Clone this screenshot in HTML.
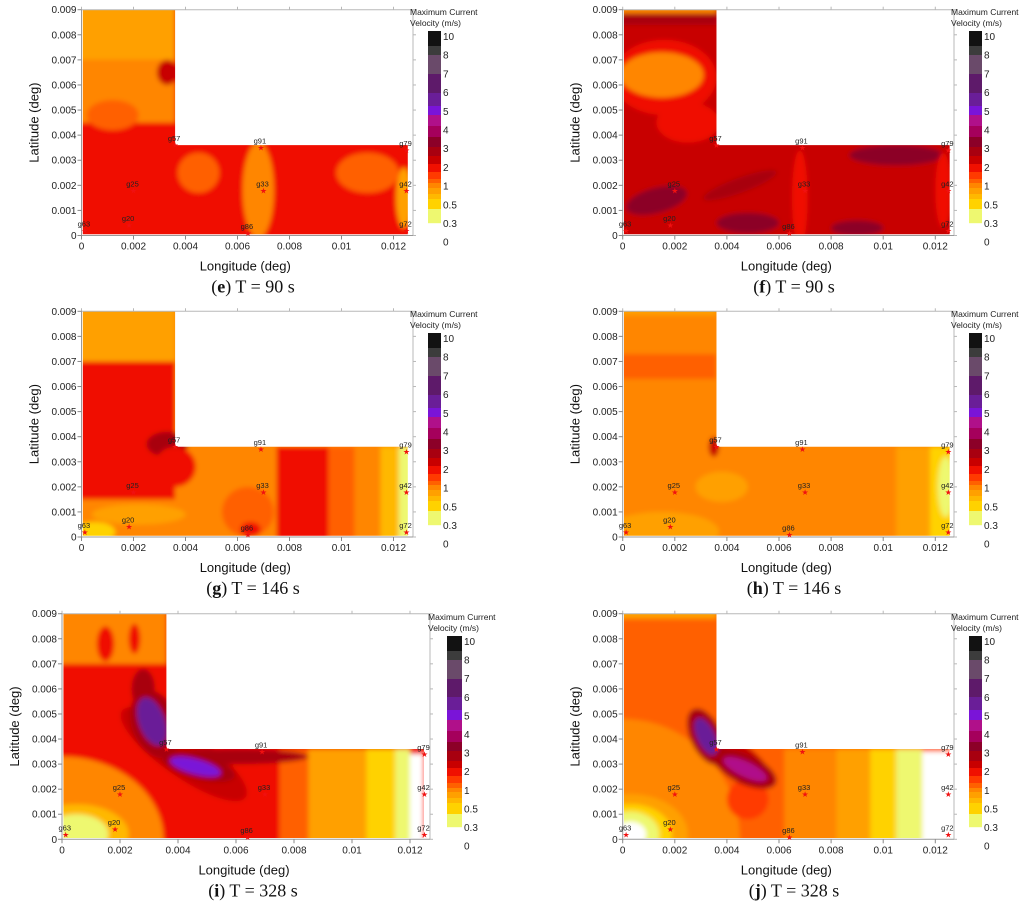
<!DOCTYPE html>
<html><head><meta charset="utf-8">
<style>
html,body{margin:0;padding:0;background:#fff;overflow:hidden;width:1024px;height:907px;}
svg{display:block;}
text{font-family:"Liberation Sans",sans-serif;}
.cap{font-family:"Liberation Serif",serif;font-size:18px;fill:#111;}
</style></head>
<body>
<svg id="fig" width="1024" height="907" viewBox="0 0 1024 907" xmlns="http://www.w3.org/2000/svg" overflow="hidden">
<defs><filter id="soft" x="-5%" y="-5%" width="110%" height="110%"><feGaussianBlur stdDeviation="2.5"/></filter></defs>
</svg>
<script>
// ---- shared data ----
const xTicks=[0,0.002,0.004,0.006,0.008,0.01,0.012];
const xTickLabels=['0','0.002','0.004','0.006','0.008','0.01','0.012'];
const yTicks=[0,0.001,0.002,0.003,0.004,0.005,0.006,0.007,0.008,0.009];
const yTickLabels=['0','0.001','0.002','0.003','0.004','0.005','0.006','0.007','0.008','0.009'];
const cbLabels=['10','8','7','6','5','4','3','2','1','0.5','0.3','0'];
const cbValues=[10,8,7,6,5,4,3,2,1,0.5,0.3,0];
const gaugeNames=['g63','g20','g25','g57','g91','g33','g86','g79','g42','g72'];
const gaugeLon=[0.00013,0.00183,0.002,0.0036,0.0069,0.0070,0.0064,0.0125,0.0125,0.0125];
const gaugeLat=[0.0002,0.00042,0.0018,0.0036,0.0035,0.0018,0.0001,0.0034,0.0018,0.0002];
const levelBounds=[0.2,0.45,0.65,0.8,0.95,1.15,1.4,1.75,2.2,2.6,3.1,3.6,4.2,4.8,5.3,6,7,8,9];
const levelColors=['#ffffff','#eef870','#ffd200','#ffb800','#ffa000','#ff8600','#ff6000','#ff3a00','#f01000','#c80000','#a80010','#8c0028','#a5005c','#b0108a','#7a14d8','#6a1e98','#5e1a6a','#6a4a6a','#3c3c3c','#121212'];

// ---- panel field data: rects [lon1,lat1,lon2,lat2,value]; blobs [lon,lat,rLon,rLat,value,tiltDeg] ----
const eRects=[[0,0,0.0126,0.009,1.8],[0,0.0045,0.0036,0.007,1.1],[0,0.007,0.0036,0.009,0.8]];
const eBlobs=[[0.0012,0.0048,0.001,0.0006,1.3,0],[0.0068,0.0018,0.0006,0.0019,1.0,0],[0.0045,0.0025,0.0008,0.0008,1.3,0],[0.011,0.0025,0.0012,0.0008,1.2,0],[0.0124,0.0015,0.0003,0.0012,0.85,0],[0.0033,0.0065,0.0004,0.0005,2.5,0],[0.0018,0.0004,0.0008,0.0006,2.0,0],[0.0105,0.0005,0.001,0.0008,2.0,0],[0.009,0.0028,0.0006,0.0006,2.0,0],[0.003,0.0033,0.0007,0.0005,2.0,0]];
const fRects=[[0,0,0.0126,0.009,2.5],[0,0.0084,0.0036,0.009,2.8],[0,0.00885,0.0036,0.009,1.0]];
const fBlobs=[[0.0016,0.0063,0.002,0.0015,1.9,0],[0.0015,0.0064,0.0016,0.0009,1.1,0],[0.0025,0.0045,0.0012,0.0008,2.0,0],[0.0068,0.0015,0.0003,0.0019,2.0,0],[0.0013,0.0014,0.0012,0.0005,3.3,-15],[0.0048,0.0005,0.0012,0.0004,3.3,0],[0.0105,0.0032,0.0018,0.0004,3.3,0],[0.0123,0.0018,0.0003,0.0015,2.0,0],[0.009,0.0003,0.001,0.0003,3.3,0],[0.0045,0.002,0.0015,0.0003,2.8,-20]];
const gRects=[[0,0,0.0126,0.009,1.1],[0,0.0015,0.0036,0.007,1.9],[0,0.007,0.0036,0.009,0.8],[0.0075,0,0.0095,0.0036,1.8],[0.0095,0,0.0105,0.0036,1.3],[0.0115,0,0.0122,0.0036,0.7],[0.0122,0,0.0126,0.0036,0.4]];
const gBlobs=[[0.0033,0.0037,0.0008,0.0005,2.6,0],[0.0005,0.0002,0.0008,0.0004,0.6,0],[0.0064,0.001,0.001,0.001,1.3,0],[0.0065,0.0003,0.0004,0.0003,2.0,0],[0.0022,0.0009,0.0018,0.0004,0.9,0],[0.0036,0.0028,0.0008,0.0008,1.9,0]];
const hRects=[[0,0,0.0126,0.009,1.0],[0,0.0063,0.0036,0.0073,1.3],[0,0.00885,0.0036,0.009,0.8],[0.0105,0,0.0118,0.0036,0.8],[0.0118,0,0.0126,0.0036,0.5]];
const hBlobs=[[0.0035,0.0036,0.0002,0.0004,2.2,0],[0.0015,0.0002,0.0022,0.0008,0.8,0],[0.0038,0.002,0.001,0.0006,0.85,0],[0.0124,0.002,0.0003,0.0012,0.35,0]];
const iRects=[[0,0,0.0126,0.009,1.8],[0,0.007,0.0036,0.009,1.0],[0.0075,0,0.0085,0.0036,1.2],[0.0085,0,0.0105,0.0036,0.9],[0.0105,0,0.0115,0.0036,0.6],[0.0115,0,0.012,0.0036,0.35],[0.012,0,0.01245,0.0034,0],[0.01245,0,0.0126,0.0036,1.5]];
const iBlobs=[[0,0,0.0035,0.0033,1.0,0],[0.0005,0.0002,0.0018,0.0012,0.7,0],[0.0005,0.0002,0.0011,0.0008,0.4,0],[0.0015,0.0078,0.0003,0.0007,1.8,0],[0.0025,0.008,0.0002,0.0006,1.8,0],[0.0028,0.006,0.0004,0.0008,2.7,0],[0.0042,0.0034,0.0026,0.0009,2.3,35],[0.0032,0.0046,0.0008,0.0014,3.0,-20],[0.0031,0.0047,0.00045,0.0010,5.5,-20],[0.006,0.0033,0.0025,0.0003,2.7,0],[0.0047,0.0029,0.0013,0.0005,3.0,15],[0.0046,0.0029,0.0009,0.0003,5.0,15]];
const jRects=[[0,0,0.0126,0.009,1.3],[0,0.0088,0.0036,0.009,0.8],[0.0062,0,0.0082,0.0036,1.0],[0.0082,0,0.0095,0.0036,0.85],[0.0095,0,0.0105,0.0036,0.6],[0.0105,0,0.0115,0.0036,0.35],[0.0115,0,0.0126,0.0035,0]];
const jBlobs=[[0,0,0.0045,0.0048,1.0,0],[0.0003,0.0002,0.0022,0.0016,0.85,0],[0.0003,0.0002,0.0016,0.0012,0.6,0],[0.0003,0.0002,0.0011,0.0009,0.4,0],[0.0003,0.0002,0.0006,0.0005,0,0],[0.0048,0.0016,0.0008,0.0008,1.5,0],[0.0042,0.0033,0.0018,0.0007,2.2,35],[0.0032,0.0041,0.0006,0.0012,2.8,-25],[0.0032,0.0041,0.00035,0.0008,5.5,-25],[0.0047,0.0028,0.0013,0.0006,2.8,25],[0.0047,0.0028,0.0009,0.0003,4.5,25]];

const panels=[
 {id:'e',T:'90',rects:eRects,blobs:eBlobs,x0:81.5,kx:26.0,y0:235.5,yt:9.7,fr:413,cbX:428,cbW:13,cbT:31,cbB:223,tX:410,capX:253},
 {id:'f',T:'90',rects:fRects,blobs:fBlobs,x0:622.7,kx:26.05,y0:235.5,yt:9.7,fr:954,cbX:969,cbW:13,cbT:31,cbB:223,tX:951,capX:794},
 {id:'g',T:'146',rects:gRects,blobs:gBlobs,x0:81.5,kx:26.0,y0:537,yt:311.3,fr:413,cbX:428,cbW:13,cbT:333,cbB:525,tX:410,capX:253},
 {id:'h',T:'146',rects:hRects,blobs:hBlobs,x0:622.7,kx:26.05,y0:537,yt:311.3,fr:954,cbX:969,cbW:13,cbT:333,cbB:525,tX:951,capX:794},
 {id:'i',T:'328',rects:iRects,blobs:iBlobs,x0:62,kx:29.0,y0:839.3,yt:613.7,fr:430,cbX:447,cbW:15,cbT:636,cbB:827,tX:428,capX:253},
 {id:'j',T:'328',rects:jRects,blobs:jBlobs,x0:622.7,kx:26.05,y0:839.3,yt:613.7,fr:954,cbX:969,cbW:13,cbT:636,cbB:827,tX:951,capX:794}
];
const NS='http://www.w3.org/2000/svg';
const fig=document.getElementById('fig');
function mk(tag,attrs,parent){const e=document.createElementNS(NS,tag);for(const k in attrs)e.setAttribute(k,attrs[k]);(parent||fig).appendChild(e);return e;}
function colorFor(v){let i=0;while(i<levelBounds.length&&v>=levelBounds[i])i++;return levelColors[i];}

panels.forEach(p=>{
 const ky=(p.y0-p.yt)/9;
 const X=lon=>p.x0+lon*1000*p.kx;
 const Y=lat=>p.y0-lat*1000*ky;
 const g=mk('g',{});
 
 
 const lonR=(p.id==='i')?0.01248:0.01255;
 const L=[[0.00005,0.00005],[lonR,0.00005],[lonR,0.0036],[0.0036,0.0036],[0.0036,0.009],[0.00005,0.009]];
 const cp=mk('clipPath',{id:'clip-'+p.id},g);
 mk('polygon',{points:L.map(q=>X(q[0])+','+Y(q[1])).join(' ')},cp);
 const field=mk('g',{'clip-path':'url(#clip-'+p.id+')'},g);
 
 
 const inner=mk('g',{filter:'url(#soft)'},field);
 p.rects.forEach(r=>{
  const x1=r[0]<=0?X(r[0])-10:X(r[0]),x2=r[2]>=0.0126?X(r[2])+10:X(r[2]);
  const y2=r[1]<=0?Y(r[1])+10:Y(r[1]),y1=r[3]>=0.009?Y(r[3])-10:Y(r[3]);
  const el=mk('rect',{x:x1,y:y1,width:x2-x1,height:y2-y1,fill:colorFor(r[4])},inner);
  
  
 });
 p.blobs.forEach(b=>{
  const cx=X(b[0]),cy=Y(b[1]);
  const el=mk('ellipse',{cx:cx,cy:cy,rx:b[2]*1000*p.kx,ry:b[3]*1000*ky,fill:colorFor(b[4]),transform:'rotate('+(b[5]||0)+' '+cx+' '+cy+')'},inner);
  
  
 });
 const fc='#b8b8b8';
 mk('line',{x1:p.x0,y1:p.yt,x2:p.fr,y2:p.yt,stroke:fc,'stroke-width':1},g);
 mk('line',{x1:p.fr,y1:p.yt,x2:p.fr,y2:p.y0,stroke:fc,'stroke-width':1},g);
 mk('line',{x1:p.x0,y1:p.yt,x2:p.x0,y2:p.y0+1,stroke:'#999','stroke-width':1},g);
 mk('line',{x1:p.x0,y1:p.y0,x2:p.fr,y2:p.y0,stroke:'#999','stroke-width':1},g);
 xTicks.forEach((t,i)=>{
  mk('line',{x1:X(t),y1:p.y0,x2:X(t),y2:p.y0+4,stroke:'#888'},g);
  mk('line',{x1:X(t),y1:p.yt,x2:X(t),y2:p.yt-3,stroke:fc},g);
  const tx=mk('text',{x:X(t),y:p.y0+14,'font-size':10,'text-anchor':'middle',fill:'#222'},g);
  tx.textContent=xTickLabels[i];
  
  
 });
 yTicks.forEach((t,i)=>{
  mk('line',{x1:p.x0-4,y1:Y(t),x2:p.x0,y2:Y(t),stroke:'#888'},g);
  mk('line',{x1:p.fr,y1:Y(t),x2:p.fr+3,y2:Y(t),stroke:fc},g);
  const tx=mk('text',{x:p.x0-5,y:Y(t)+3.5,'font-size':10,'text-anchor':'end',fill:'#222'},g);
  tx.textContent=yTickLabels[i];
  
  
 });
 const xl=mk('text',{x:(p.x0+p.fr)/2-2,y:p.y0+35,'font-size':13,'text-anchor':'middle',fill:'#111'},g);
 xl.textContent='Longitude (deg)';
 
 
 const ylx=p.x0-43,yly=(p.y0+p.yt)/2;
 const yl=mk('text',{x:ylx,y:yly,'font-size':13,'text-anchor':'middle',fill:'#111',transform:'rotate(-90 '+ylx+' '+yly+')'},g);
 yl.textContent='Latitude (deg)';
 
 
 gaugeNames.forEach((n,i)=>{
  const s=mk('text',{x:X(gaugeLon[i]),y:Y(gaugeLat[i])+3,'font-size':8,'text-anchor':'middle',fill:'#f01010'},g);
  s.textContent='★';
  
  
  const t=mk('text',{x:X(gaugeLon[i])-1,y:Y(gaugeLat[i])-4,'font-size':7.5,'text-anchor':'middle',fill:'#222'},g);
  t.textContent=n;
  
  
 });
 const cb=mk('g',{},g);
 
 
 const step=(p.cbB-p.cbT-5)/10;
 const labY=i=>p.cbT+5+i*step;
 for(let yy=p.cbT;yy<p.cbB;yy+=1){
  let k=0;while(k<10&&labY(k+1)<yy)k++;
  let v;
  if(yy<=labY(0))v=10;else{const f=(yy-labY(k))/(labY(k+1)-labY(k));v=cbValues[k]+(cbValues[k+1]-cbValues[k])*Math.min(1,f);}
  mk('rect',{x:p.cbX,y:yy,width:p.cbW,height:1.2,fill:colorFor(v)},cb);
 }
 cbLabels.forEach((l,i)=>{
  const t=mk('text',{x:p.cbX+p.cbW+2,y:labY(i)+4,'font-size':10,fill:'#222'},cb);
  t.textContent=l;
  
  
 });
 const t1=mk('text',{x:p.tX,y:p.cbT-16,'font-size':8.5,fill:'#222'},cb);
 t1.textContent='Maximum Current';
 
 
 const t2=mk('text',{x:p.tX,y:p.cbT-5,'font-size':8.5,fill:'#222'},cb);
 t2.textContent='Velocity (m/s)';
 
 
 const c=mk('text',{x:p.capX,y:p.y0+57,'text-anchor':'middle',class:'cap'},g);
 
 
 c.appendChild(document.createTextNode('('));
 const b=mk('tspan',{'font-weight':'bold'},c);b.textContent=p.id;
 const r=mk('tspan',{},c);r.textContent=') T = '+p.T+' s';
});
</script>
</body></html>
